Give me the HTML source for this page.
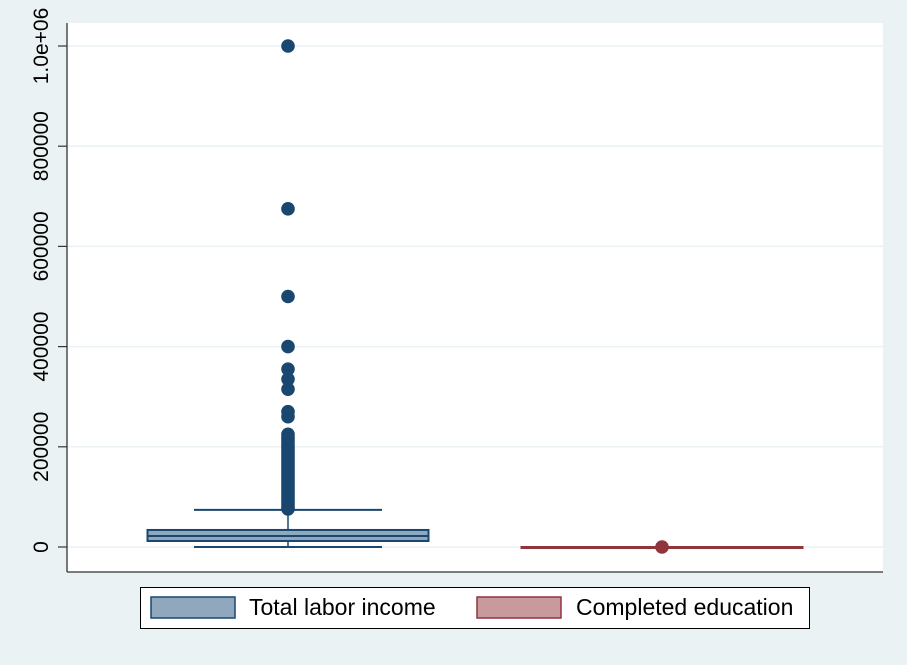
<!DOCTYPE html>
<html><head><meta charset="utf-8"><style>
body{margin:0;background:#eaf2f3;font-family:"Liberation Sans",sans-serif}
</style></head><body>
<svg width="907" height="660" id="chart" xmlns="http://www.w3.org/2000/svg">
<rect x="0" y="0" width="907" height="660" fill="#eaf2f3"/>
<rect x="67" y="23" width="816" height="549" fill="#ffffff"/>
<g id="grid"></g>
<g id="marks"></g>
<line x1="67" y1="23" x2="67" y2="572" stroke="#333" stroke-width="1.3"/>
<line x1="67" y1="572" x2="883" y2="572" stroke="#333" stroke-width="1.3"/>
<g id="ticks"></g>
<g>
<rect x="140.5" y="587.5" width="669" height="41" fill="#fff" stroke="#000" stroke-width="1"/>
<rect x="151" y="597" width="84" height="21" fill="#90a8bd" stroke="#1a476f" stroke-width="1.5"/>
<text x="249" y="615" font-size="23" fill="#000">Total labor income</text>
<rect x="477" y="597" width="84" height="21" fill="#c89a9d" stroke="#90353b" stroke-width="1.5"/>
<text x="576" y="615" font-size="23" fill="#000">Completed education</text>
</g>
</svg>
<script>
const tickValues=[0,200000,400000,600000,800000,1000000];
const tickLabels=["0","200000","400000","600000","800000","1.0e+06"];
const seriesNames=["Total labor income","Completed education"];
const colors=["#1a476f","#90353b"];
const fills=["#90a8bd","#c89a9d"];
const lowerWhisker=[0,0];
const q1=[12000,0];
const median=[22000,0];
const q3=[34000,0];
const upperWhisker=[74000,0];
const outliers1=[76000,80000,85000,90000,95000,100000,105000,110000,115000,120000,125000,130000,135000,140000,145000,150000,155000,160000,165000,170000,175000,180000,185000,190000,195000,200000,205000,210000,215000,220000,225000,260000,270000,315000,335000,355000,400000,500000,675000,1000000];
const outliers2=[0];
const outliers=[outliers1,outliers2];
const NS="http://www.w3.org/2000/svg";
function y(v){return 547-v*501/1000000;}
const centers=[288,662];
const halfW=140.5, whW=94;
function mk(t,a,parent){const e=document.createElementNS(NS,t);for(const k in a)e.setAttribute(k,a[k]);document.getElementById(parent).appendChild(e);return e;}
tickValues.forEach((v,i)=>{
 const g=mk('line',{x1:67,x2:883,y1:y(v),y2:y(v),stroke:'#eaf2f3','stroke-width':1.5},'grid');
 
 
 const t=mk('line',{x1:58,x2:67,y1:y(v),y2:y(v),stroke:'#333','stroke-width':1.2},'ticks');
 
 
 const l=mk('text',{x:0,y:0,'font-size':21,'text-anchor':'middle',transform:`translate(48,${y(v)}) rotate(-90)`},'ticks');
 l.textContent=tickLabels[i];
 
 
});
seriesNames.forEach((n,i)=>{
 const c=centers[i],col=colors[i];
 const w1=mk('line',{x1:c,x2:c,y1:y(upperWhisker[i]),y2:y(q3[i]),stroke:col,'stroke-width':1.5},'marks');
 
 
 const w2=mk('line',{x1:c,x2:c,y1:y(q1[i]),y2:y(lowerWhisker[i]),stroke:col,'stroke-width':1.5},'marks');
 
 
 [upperWhisker[i],lowerWhisker[i]].forEach(v=>{
  const cap=mk('line',{x1:c-whW,x2:c+whW,y1:y(v),y2:y(v),stroke:col,'stroke-width':2},'marks');
  
  
 });
 const h=Math.max(y(q1[i])-y(q3[i]),1);
 const b=mk('rect',{x:c-halfW,y:y(q3[i]),width:2*halfW,height:h,fill:fills[i],stroke:col,'stroke-width':2},'marks');
 
 
 const m=mk('line',{x1:c-halfW,x2:c+halfW,y1:y(median[i]),y2:y(median[i]),stroke:col,'stroke-width':2},'marks');
 
 
 outliers[i].forEach(v=>{
  const p=mk('circle',{cx:c,cy:y(v),r:6.8,fill:col},'marks');
  
  
 });
});
</script>
</body></html>
